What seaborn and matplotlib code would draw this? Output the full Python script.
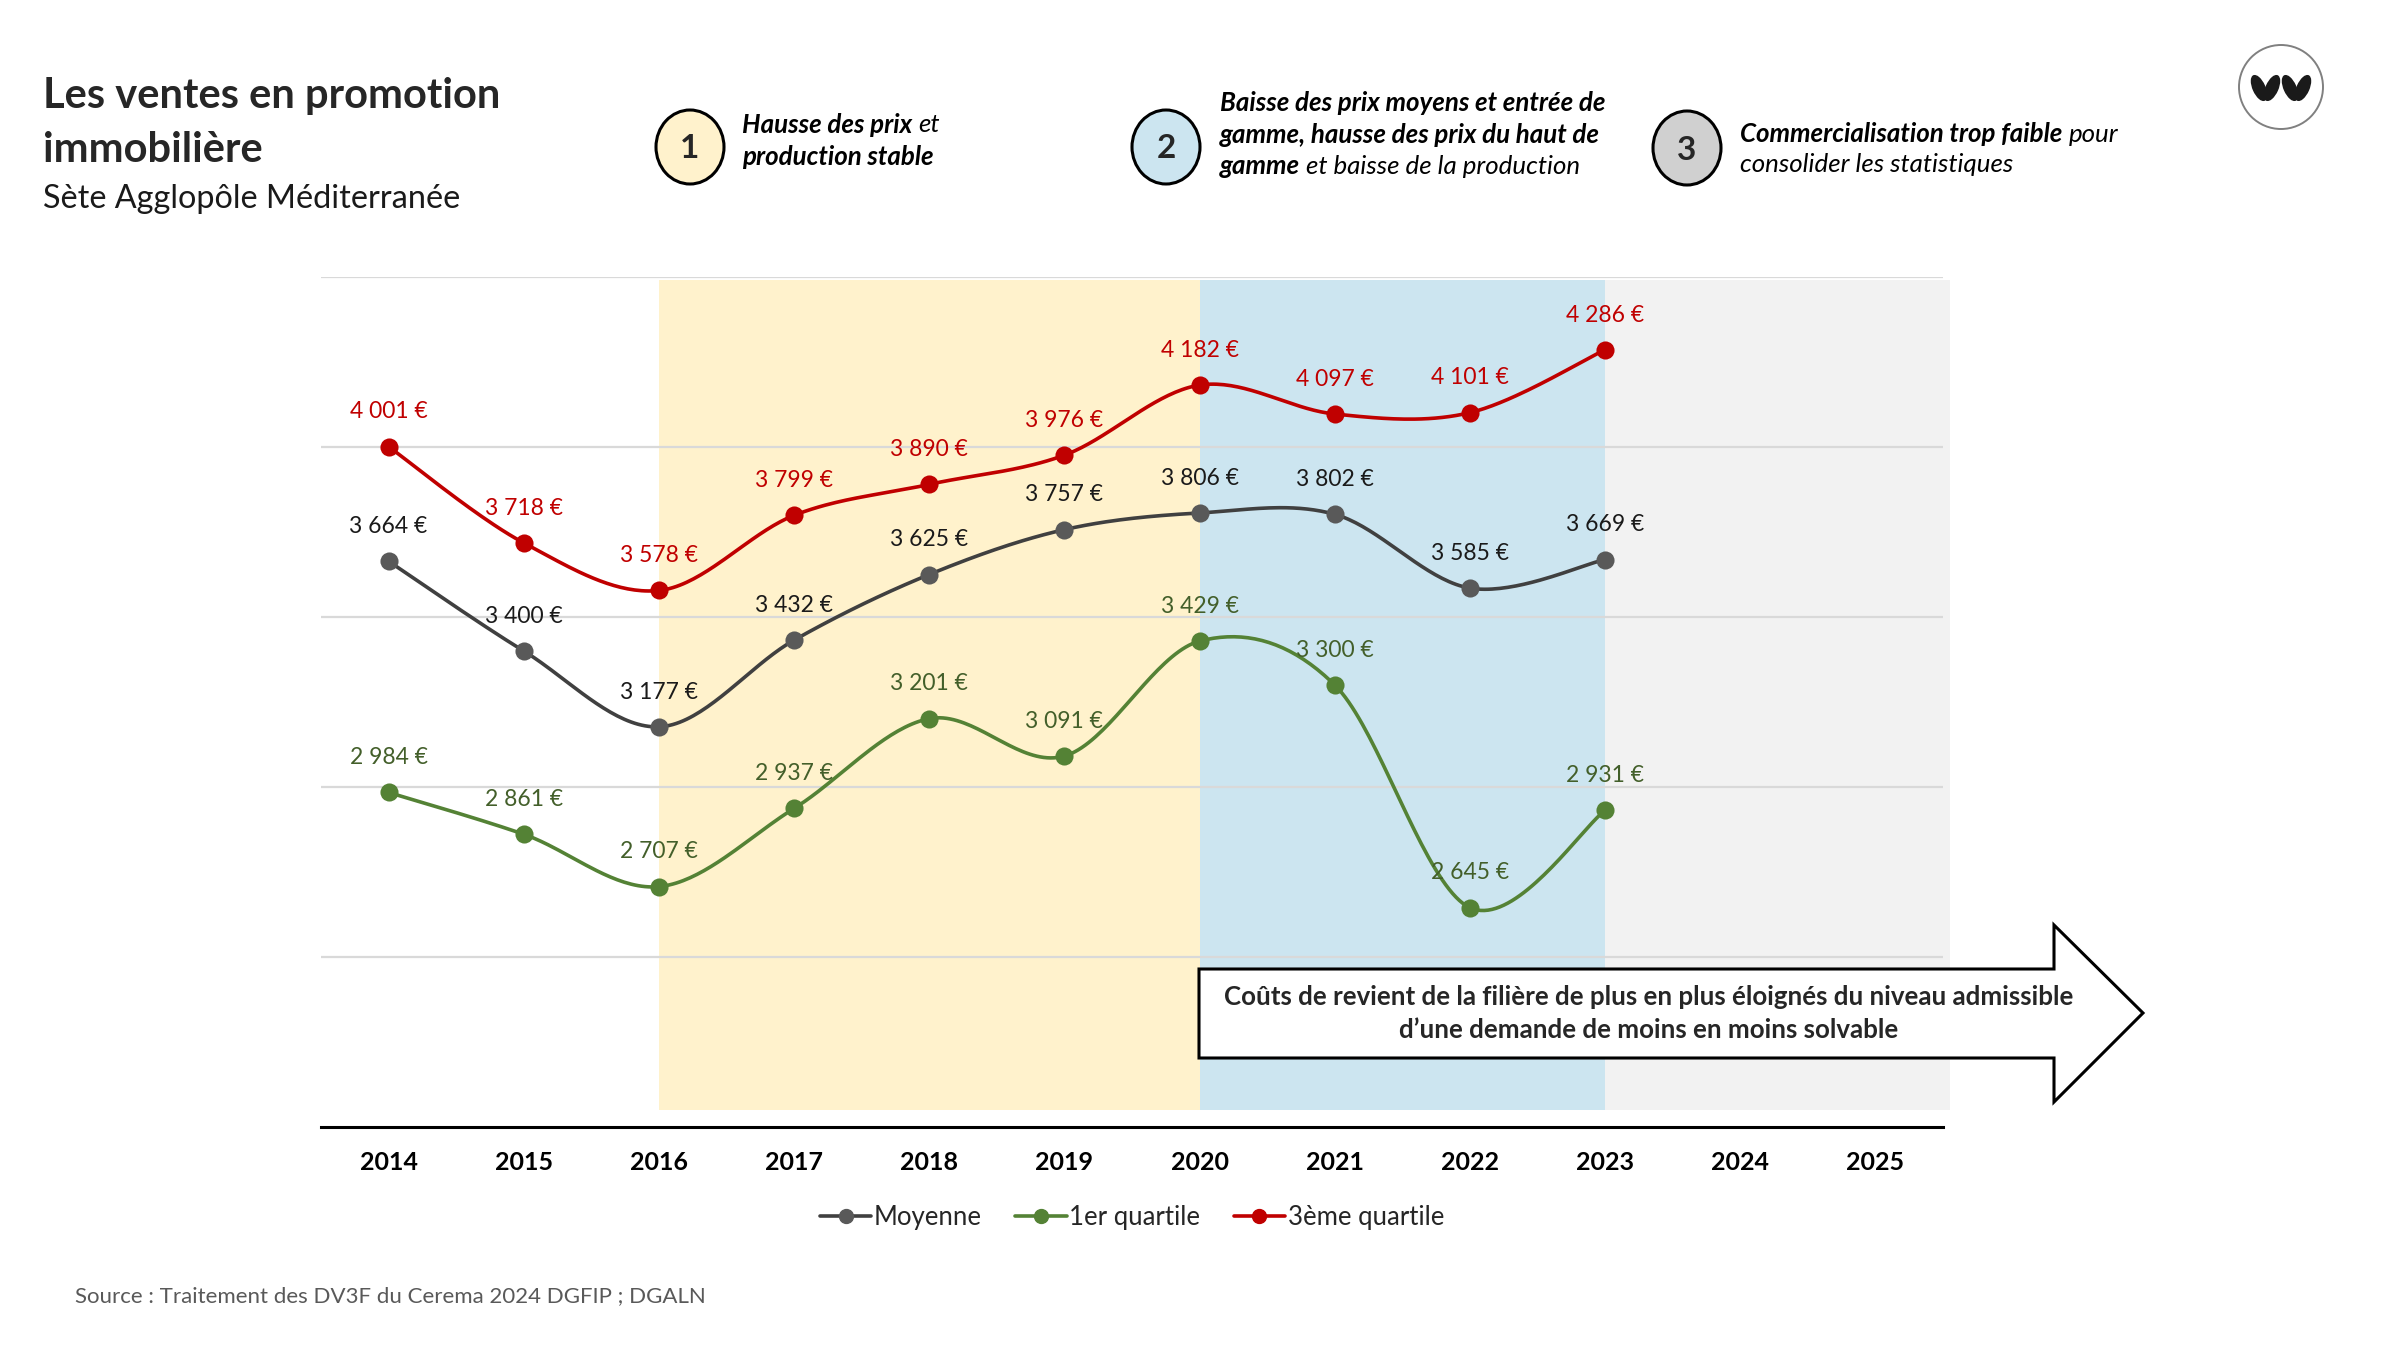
import numpy as np
import pandas as pd
import matplotlib
matplotlib.use("Agg")
import matplotlib.pyplot as plt
import seaborn as sns
from matplotlib import font_manager as fm
from matplotlib.patches import Ellipse, Polygon, Circle
from matplotlib.lines import Line2D

# ---------------- data ----------------
years = ["2014", "2015", "2016", "2017", "2018", "2019", "2020", "2021", "2022", "2023", "2024", "2025"]
moyenne = [3664, 3400, 3177, 3432, 3625, 3757, 3806, 3802, 3585, 3669]
q1 = [2984, 2861, 2707, 2937, 3201, 3091, 3429, 3300, 2645, 2931]
q3 = [4001, 3718, 3578, 3799, 3890, 3976, 4182, 4097, 4101, 4286]
series_names = ["Moyenne", "1er quartile", "3ème quartile"]

# ---------------- fonts ----------------
def pick(names):
    for n in names:
        try:
            fm.findfont(fm.FontProperties(family=n), fallback_to_default=False)
            return n
        except Exception:
            pass
    return "DejaVu Sans"

sns.set_theme(style="white")
FONT = pick(["Lato", "Open Sans"])
plt.rcParams["font.family"] = [FONT, "DejaVu Sans"]

W, H = 2400, 1350
fig = plt.figure(figsize=(24, 13.5), dpi=100)
fig.patch.set_facecolor("white")

# main axes (pixel layout)
L, R, T, B = 321, 1943, 277, 1127
ax = fig.add_axes([L / W, 1 - B / H, (R - L) / W, (B - T) / H])

x = np.arange(len(years))
ax.set_xlim(-0.5, len(years) - 0.5)
ax.set_ylim(2000, 4500)

# period shading
ax.axvspan(2, 6, ymin=0.02, ymax=0.997, color="#FFF2CC", lw=0, zorder=0)
ax.axvspan(6, 9, ymin=0.02, ymax=0.997, color="#CCE5F0", lw=0, zorder=0)
ax.axvspan(9, 11.55, ymin=0.02, ymax=0.997, color="#F2F2F2", lw=0, zorder=0, clip_on=False)


def smooth(xs, ys, n=40):
    P = np.column_stack([xs, ys]).astype(float)
    outx, outy = [], []
    for i in range(len(P) - 1):
        p0 = P[i - 1] if i > 0 else P[i]
        p1, p2 = P[i], P[i + 1]
        p3 = P[i + 2] if i + 2 < len(P) else P[i + 1]
        c1 = p1 + (p2 - p0) / 6.0
        c2 = p2 - (p3 - p1) / 6.0
        t = np.linspace(0, 1, n)[:, None]
        seg = (1 - t) ** 3 * p1 + 3 * (1 - t) ** 2 * t * c1 + 3 * (1 - t) * t ** 2 * c2 + t ** 3 * p2
        outx.extend(seg[:, 0]); outy.extend(seg[:, 1])
    return np.array(outx), np.array(outy)


styles = [
    (moyenne, "#404040", "#595959", "#1a1a1a"),
    (q1, "#548235", "#548235", "#435F2A"),
    (q3, "#C00000", "#C00000", "#C00000"),
]

for (vals, lc, mc, tc), name in zip(styles, series_names):
    xs = x[: len(vals)]
    sx, sy = smooth(xs, vals)
    df_line = pd.DataFrame({"x": sx, "y": sy})
    sns.lineplot(data=df_line, x="x", y="y", ax=ax, color=lc, lw=2.6, sort=False,
                 estimator=None, zorder=3)
    df_pts = pd.DataFrame({"x": xs, "y": vals})
    sns.scatterplot(data=df_pts, x="x", y="y", ax=ax, color=mc, s=170, edgecolor=mc,
                    linewidth=0, zorder=4)
    for xi, v in zip(xs, vals):
        lab = f"{v:,}".replace(",", " ") + " €"
        ax.annotate(lab, (xi, v), xytext=(0, 25), textcoords="offset points",
                    ha="center", va="center", fontsize=16.5, color=tc, zorder=5)

ax.set_xticks(x)
ax.set_xticklabels(years, fontsize=18, fontweight="bold", color="black")
ax.set_yticks([2500, 3000, 3500, 4000, 4500])
ax.set_yticklabels([])
ax.grid(axis="y", color="#D9D9D9", lw=1.6)
ax.grid(axis="x", visible=False)
ax.set_axisbelow(True)
ax.tick_params(axis="both", length=0)
ax.tick_params(axis="x", pad=17)
for s in ["left", "right", "top"]:
    ax.spines[s].set_visible(False)
ax.spines["bottom"].set_color("black")
ax.spines["bottom"].set_linewidth(2.2)
ax.set_xlabel("")
ax.set_ylabel("")
ax.set_facecolor("none")

# legend
handles = [
    Line2D([], [], color="#404040", marker="o", markersize=10, markerfacecolor="#595959",
           markeredgecolor="#595959", lw=2.6),
    Line2D([], [], color="#548235", marker="o", markersize=10, lw=2.6),
    Line2D([], [], color="#C00000", marker="o", markersize=10, lw=2.6),
]
fig.legend(handles, series_names, loc="center", ncol=3, frameon=False,
           bbox_to_anchor=((L + R) / 2 / W, 1 - 1217 / H), fontsize=18.5,
           handlelength=2.0, handletextpad=0.1, columnspacing=1.3)

# overlay axes in pixel coords
ov = fig.add_axes([0, 0, 1, 1], zorder=10)
ov.set_xlim(0, W)
ov.set_ylim(H, 0)
ov.axis("off")
ov.patch.set_alpha(0)

ov.text(43, 96, "Les ventes en promotion", fontsize=30, fontweight="bold", va="center", ha="left")
ov.text(43, 150, "immobilière", fontsize=30, fontweight="bold", va="center", ha="left")
ov.text(43, 199, "Sète Agglopôle Méditerranée", fontsize=23.3, va="center", ha="left", color="#1a1a1a")

renderer = fig.canvas.get_renderer()


def width_of(s, size, weight):
    t = ov.text(0, 0, s, fontsize=size, fontweight=weight, style="italic")
    w = t.get_window_extent(renderer=renderer).width
    t.remove()
    return w


def runs(x0, y0, parts, size=18.6):
    sp = width_of("a a", size, "normal") - width_of("aa", size, "normal")
    cx = x0
    for i, (txt, wgt) in enumerate(parts):
        t = ov.text(cx, y0, txt, fontsize=size, fontweight=wgt, style="italic",
                    va="center", ha="left", color="black")
        cx += t.get_window_extent(renderer=renderer).width + sp


def badge(cx, cy, num, fc):
    ov.add_patch(Ellipse((cx, cy), 68, 74, facecolor=fc, edgecolor="black", lw=2.2))
    ov.text(cx, cy + 2, num, fontsize=24, fontweight="bold", ha="center", va="center")


badge(690, 147, "1", "#FFF2CC")
runs(742, 125, [("Hausse des prix", "bold"), ("et", "normal")])
runs(742, 157, [("production stable", "bold")])

badge(1166, 147, "2", "#CCE5F0")
runs(1220, 103, [("Baisse des prix moyens et entrée de", "bold")])
runs(1220, 135, [("gamme, hausse des prix du haut de", "bold")])
runs(1220, 166, [("gamme", "bold"), ("et baisse de la production", "normal")])

badge(1687, 148, "3", "#D0D0D0")
runs(1740, 134, [("Commercialisation trop faible", "bold"), ("pour", "normal")])
runs(1740, 165, [("consolider les statistiques", "normal")])

# logo
ov.add_patch(Circle((2281, 87), 42, facecolor="white", edgecolor="#808080", lw=1.4))
for dx, ang in [(-22, -24), (-9, 24), (9, -24), (22, 24)]:
    ov.add_patch(Ellipse((2281 + dx, 88), 13, 28, angle=ang, facecolor="#1a1a1a", lw=0))

# arrow
arrow_pts = [(1199, 969), (2054, 969), (2054, 925), (2143, 1013), (2054, 1102),
             (2054, 1058), (1199, 1058)]
ov.add_patch(Polygon(arrow_pts, closed=True, facecolor="white", edgecolor="black", lw=2.2))
ov.text(1649, 997, "Coûts de revient de la filière de plus en plus éloignés du niveau admissible",
        fontsize=18.6, fontweight="bold", ha="center", va="center")
ov.text(1649, 1030, "d’une demande de moins en moins solvable",
        fontsize=18.6, fontweight="bold", ha="center", va="center")

# source
ov.text(75, 1296, "Source : Traitement des DV3F du Cerema 2024 DGFIP ; DGALN",
        fontsize=16, color="#595959", ha="left", va="center")

fig.savefig("out.png", dpi=100, facecolor="white")
